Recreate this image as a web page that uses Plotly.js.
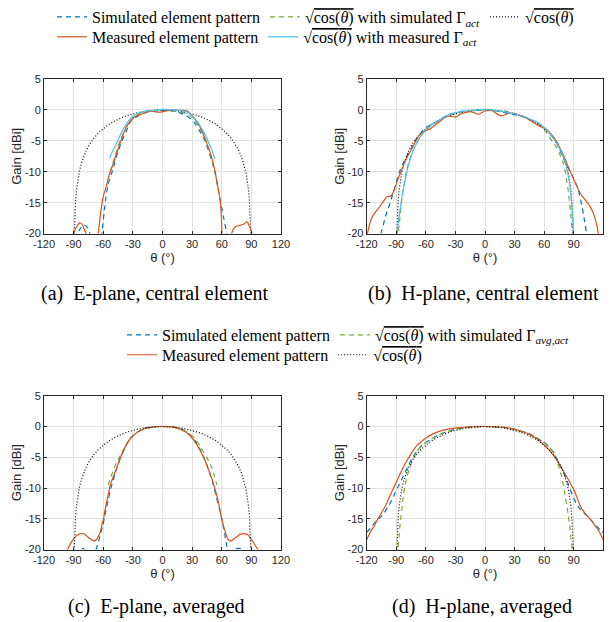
<!DOCTYPE html>
<html>
<head>
<meta charset="utf-8">
<script src="https://cdn.plot.ly/plotly-3.0.1.min.js"></script>
<style>
html,body{margin:0;padding:0;background:#fff;}
#chart{width:612px;height:622px;}
</style>
</head>
<body>
<div id="chart"></div>
<script>
// ---------- tick labels ----------
const thetaTicks = [-120,-90,-60,-30,0,30,60,90,120];
const thetaTickText = ['-120','-90','-60','-30','0','30','60','90','120'];
const gainTicks = [-20,-15,-10,-5,0,5];
const gainTickText = ['-20','-15','-10','-5','0','5'];

// ---------- sqrt(cos(theta)) reference (black dotted), shared by all panels ----------
const dotTheta = [-89.5,-89.2,-89,-88.5,-88,-87,-86,-85,-84,-82,-80,-77,-74,-70,-65,-60,-55,-50,-45,-40,-35,-30,-25,-20,-15,-10,-5,0,5,10,15,20,25,30,35,40,45,50,55,60,65,70,74,77,80,82,84,85,86,87,88,88.5,89,89.2,89.5];
const dotGain = [-20.6,-18.55,-17.58,-15.82,-14.57,-12.81,-11.56,-10.6,-9.81,-8.56,-7.6,-6.48,-5.6,-4.66,-3.74,-3.01,-2.41,-1.92,-1.51,-1.16,-0.87,-0.62,-0.43,-0.27,-0.15,-0.07,-0.02,0,-0.02,-0.07,-0.15,-0.27,-0.43,-0.62,-0.87,-1.16,-1.51,-1.92,-2.41,-3.01,-3.74,-4.66,-5.6,-6.48,-7.6,-8.56,-9.81,-10.6,-11.56,-12.81,-14.57,-15.82,-17.58,-18.55,-20.6];

// ---------- (a) E-plane, central element ----------
const aSimTheta = [-88,-84,-80,-76,-72,null,-64,-61.5,-58,-55,-51,-46,-41,-36,-33,-28,-25,-18,-12,-5,0,5,12,18,25,32,38,43,48,53,56,59,62,65,66];
const aSimGain  = [-21,-19.4,-18.6,-19.0,-21,null,-22,-20,-15,-12,-10,-7.2,-5,-3.2,-2,-1.3,-1,-0.5,-0.2,-0.2,-0.1,-0.1,-0.2,-0.5,-1.0,-2,-3.5,-5,-7.3,-10,-12.5,-15,-17.5,-20,-21.5];
const aSimActTheta = [-53,-50,-46,-42,-38,-33,-28,-22,-15,-8,0,8,15,22,28,33,38,42,46,50,54];
const aSimActGain  = [-10,-8.5,-6.4,-4.6,-3.2,-1.9,-1.1,-0.5,-0.2,-0.05,0,-0.05,-0.2,-0.5,-1.0,-1.8,-3.0,-4.3,-6.0,-8.1,-10.5];
const aMeasTheta = [-92,-90,-87,-84,-82,-80,-77.5,-76,null,-66,-65,-62.5,-60,-57,-54,-51,-47,-43,-40,-36,-33,-28,-23,-19,-15,-11,-7,-4,0,4,8,11,16,20,23,26,28,31,35,39,43,47,50,53,55,57,58.5,59.5,60.2,61,null,68,70,72,75,78,82,85.5,88,90.6,92];
const aMeasGain  = [-21.5,-20,-18.9,-18.3,-18.4,-19,-20,-21,null,-21.5,-20,-16.5,-14,-12.4,-10.5,-9.2,-7.3,-5.4,-4,-2.6,-1.9,-1.1,-0.8,-0.5,-0.3,-0.2,-0.3,-0.35,-0.3,-0.15,-0.05,0,-0.05,-0.05,-0.1,-0.3,-0.6,-1.1,-1.9,-3.1,-4.6,-6.3,-7.8,-9.8,-11.6,-13.3,-14.8,-17,-20,-22,null,-22,-20,-19.2,-18.8,-18.7,-18.5,-18.1,-18.8,-20,-21];
const aMeasActTheta = [-53.5,-50,-46,-42,-38,-33,-28,-23,-16,-9,-3,1,6,11,18,25,29,33,37,40,44,47,50,53];
const aMeasActGain  = [-7.8,-6.5,-5.2,-3.8,-2.6,-1.5,-0.8,-0.45,-0.2,-0.1,0,0.1,0.05,0,-0.1,-0.35,-0.8,-1.5,-2.3,-3.1,-4.3,-5.4,-6.5,-7.9];

// ---------- (b) H-plane, central element ----------
const bSimTheta = [-107,-105.5,-103,-100.5,-98,-95,-91.3,-88.5,-86.2,-83.5,-81,-78.5,-76,-73,-69.3,-65,-61,-55,-49,-42,-35.5,-28,-22,-15,-8.5,0,5,12,18.6,25,32,38.9,45,50,55.8,60,63,66,69.3,72.7,76,79.4,82.8,86.2,89.6,93,95.5,98,100.5,103,104];
const bSimGain  = [-21.5,-20,-18.5,-17,-15.9,-14.4,-12.4,-10.9,-9.8,-8.8,-8.0,-7.2,-6.6,-5.7,-4.6,-3.7,-3.0,-2.4,-1.9,-1.2,-0.7,-0.4,-0.2,-0.1,0,0,0,-0.15,-0.4,-0.6,-0.85,-1.1,-1.5,-1.9,-2.3,-2.8,-3.3,-3.8,-4.5,-5.4,-6.5,-7.8,-8.8,-9.9,-11.0,-12.2,-13.5,-15.3,-17.5,-20,-21.5];
const bSimActTheta = [-88.5,-88,-87,-86.2,-85,-83.8,-82.5,-80.8,-79.4,-77.5,-76,-73,-69.3,-65,-61,-55,-49,-42,-35.5,-28,-20,-10,0,10,20,28,35.5,42,49,55,61,65,69,72.7,76,79.4,81.5,83,84.5,86,87,88,88.7,89];
const bSimActGain  = [-21,-20,-18.5,-17.3,-15.5,-13.8,-12.4,-10.8,-9.7,-8.6,-7.8,-6.6,-5.4,-4.3,-3.4,-2.6,-1.9,-1.3,-0.8,-0.45,-0.2,-0.05,0,-0.05,-0.2,-0.45,-0.8,-1.3,-1.9,-2.6,-3.4,-4.3,-5.3,-6.1,-7.2,-8.6,-10,-11.5,-13.2,-15.3,-17,-18.7,-20,-21];
const bMeasTheta = [-121,-119.3,-117,-115,-111,-106.5,-103,-99.7,-97,-94.6,-92,-89.6,-87,-84.5,-82,-79.4,-76,-72.7,-69,-66,-62,-58,-55,-52,-48,-45,-41,-38,-34,-30,-26,-22,-18,-14,-10,-7,-4,-1,2,5,7,10,14,17,20,24,28,32,37,42,47,52,57,62.5,66,69.3,73,76,79.5,82.8,86,89.6,93,96.3,99,101.4,104,106.5,109,111.6,113.5,115,116];
const bMeasGain  = [-21,-20,-18.5,-17.5,-16.5,-15.6,-14.8,-14.1,-14.0,-13.8,-12.9,-11.8,-10.7,-9.7,-8.7,-7.8,-6.8,-5.8,-4.7,-4.0,-3.5,-3.2,-3.0,-2.6,-2.1,-1.8,-1.2,-1.0,-1.05,-1.15,-0.8,-0.5,-0.35,-0.3,-0.5,-0.7,-0.5,-0.2,-0.1,0,-0.1,-0.4,-0.8,-0.95,-0.8,-0.5,-0.55,-0.7,-0.95,-1.3,-1.8,-2.3,-2.7,-3.2,-3.7,-4.3,-5.2,-6.2,-7.3,-8.6,-9.8,-11.1,-12.3,-13.4,-14.0,-14.5,-15.0,-15.6,-16.4,-17.5,-18.7,-20,-21];
const bMeasActTheta = [-90,-89,-88,-86,-84,-81,-78.5,-76,-73,-69.3,-65.5,-62.5,-58,-52,-49,-42,-35.5,-28,-22,-12,-1.7,5,12,20,26,32,40,46,52.4,58,63,66,70,74.4,78,81,83.5,85.5,87,88,89,89.6,90];
const bMeasActGain  = [-21,-20,-18.3,-16.0,-13.8,-11.4,-9.5,-8.1,-6.6,-5.4,-4.3,-3.5,-2.8,-2.2,-1.9,-1.2,-0.7,-0.4,-0.2,-0.05,0.1,0.05,-0.1,-0.3,-0.5,-0.7,-1.1,-1.5,-1.9,-2.6,-3.3,-3.8,-4.7,-5.9,-7.0,-8.3,-9.9,-11.6,-13.6,-15.3,-17.6,-19.6,-21];

// ---------- (c) E-plane, averaged ----------
const cSimTheta = [-86,-84,-81.5,-79,-77,null,-69,-67.3,-65,-62.5,-60.5,-59,-57,-55,-52.4,-48,-43,-38,-33,-26,-19.3,-10,0,10,19.6,26,33,38,43,47.5,51.7,55,57.8,60,62,63.5,65,66,67,null,70,72,77,82,84];
const cSimGain  = [-21,-20,-19.8,-20,-21,null,-21.5,-20,-18.8,-17.3,-16.1,-15,-13.4,-12,-10.1,-7.7,-5.3,-3.5,-2.0,-1.0,-0.35,-0.05,0,-0.05,-0.4,-1.1,-2.3,-3.7,-5.4,-7.4,-9.6,-11.8,-13.4,-15,-16.6,-18,-19.3,-20.3,-21.5,null,-21,-20,-19.8,-20,-21];
const cSimActTheta = [-55,-52.5,-50,-46.5,-43,-38,-33,-26,-19,-10,0,10,19,26,33,38,42,45,47.5,50,52.5,55];
const cSimActGain  = [-9.5,-8.3,-7.2,-5.9,-4.8,-3.3,-2.0,-1.0,-0.45,-0.1,0,-0.1,-0.45,-1.0,-2.0,-3.2,-4.3,-5.1,-5.8,-6.8,-8.0,-9.5];
const cMeasTheta = [-98,-96,-93,-90.3,-86,-82.5,-79,-76.7,-73,-69.3,-67,-65,-63,-61.5,-59.5,-58,-55.5,-53,-49.5,-46,-43,-39.5,-36,-32,-27.7,-23,-19.3,-14,-9,-4,0,5,11,16,21,25,28,32,36.5,40,43,46.5,50,52.5,55,57,58.5,60.5,62.5,65,67,69.3,72,75.4,79,82,85,87,90,92,94.5,96.7,98];
const cMeasGain  = [-21,-20,-19,-18.3,-17.6,-17.4,-17.5,-17.8,-18.3,-18.6,-18.4,-17.9,-17.1,-16.1,-14.8,-13.4,-11.5,-9.6,-8.0,-6.6,-5.2,-3.9,-2.8,-1.9,-1.2,-0.7,-0.4,-0.2,-0.05,0,0,0,-0.1,-0.35,-0.7,-1.1,-1.5,-2.3,-3.4,-4.5,-5.5,-7.0,-8.5,-9.8,-11.2,-12.6,-13.9,-15.3,-16.6,-17.8,-18.5,-18.6,-18.3,-17.9,-17.5,-17.4,-17.5,-17.7,-18.4,-18.8,-19.5,-20,-21];

// ---------- (d) H-plane, averaged ----------
const dSimTheta = [-120,-116,-111.6,-107,-103,-99,-94.6,-91,-87.9,-84.5,-81,-77.5,-74.4,-70,-66,-60,-52,-45,-35,-25,-15,0,15,25,35,45,52,60,66,70,72.7,77,81,85,89.6,93,96.3,100,104.8,109,113,117,120];
const dSimGain  = [-17.2,-16.5,-15.6,-14.9,-14.2,-13.2,-12.0,-10.7,-9.7,-8.6,-7.4,-6.3,-5.3,-4.2,-3.4,-2.6,-1.8,-1.2,-0.65,-0.3,-0.1,0,-0.1,-0.3,-0.65,-1.2,-1.8,-2.6,-3.5,-4.3,-5.2,-6.6,-8,-9.6,-11.5,-12.6,-13.4,-14.0,-14.7,-15.5,-16.2,-16.8,-17.3];
const dSimActTheta = [-88.8,-88.3,-87.5,-86.5,-85.5,-84,-82.8,-81,-79.4,-77,-74.4,-72,-69.3,-65,-60,-52,-45,-35,-25,-15,0,15,25,35,45,52,60,65,69,72.7,75.5,77.8,79.5,81,82.8,84.5,86.2,87.3,88.3,88.8];
const dSimActGain  = [-21,-20,-18.5,-16.5,-15.0,-13.0,-11.2,-9.6,-8.3,-7.1,-5.9,-5.0,-4.1,-3.3,-2.6,-1.8,-1.25,-0.7,-0.3,-0.1,0,-0.1,-0.3,-0.7,-1.25,-1.8,-2.6,-3.3,-4.2,-5.5,-6.8,-8.2,-9.6,-11.0,-12.7,-14.4,-16.6,-18.3,-20,-21];
const dMeasTheta = [-120,-117,-115,-112,-110,-106,-103,-99.5,-96.3,-93,-89.6,-86,-82.8,-79.4,-76,-72.5,-69.3,-65,-60.9,-55,-49,-42,-35.5,-27,-18.6,-9,0,9,18.6,27,35.5,44,52.4,58,62.5,67,71,75,79.4,84,89.6,93,96.3,100,104.8,108,111.6,114,116.6,119,120];
const dMeasGain  = [-18.4,-17.4,-16.8,-16.1,-15.4,-14.3,-13.5,-12.4,-11.2,-10.1,-8.9,-7.7,-6.6,-5.6,-4.7,-3.8,-3.1,-2.5,-2.0,-1.4,-0.95,-0.6,-0.4,-0.2,-0.1,0,0,-0.03,-0.1,-0.35,-0.7,-1.2,-2.0,-2.7,-3.4,-4.2,-5.0,-6.0,-7.2,-8.5,-10.1,-11.4,-12.8,-13.8,-14.7,-15.3,-16.1,-16.6,-17.3,-18.1,-18.4];

// ---------- styles ----------
const C_SIM = '#0072BD', C_MEAS = '#D95319', C_SIMACT = '#77AC30', C_MEASACT = '#4DBEEE', C_DOT = '#000000';
const LW = 1.2;
const DASH = '5px,4px';
const DOTS = '1px,2px';
const SQ = '√<span style="text-decoration:overline">cos(<i>θ</i>)</span>';

function tr(x, y, xa, ya, color, dash, name, legend, show, shape) {
  return {
    type: 'scatter', mode: 'lines', x: x, y: y, xaxis: xa, yaxis: ya,
    name: name, legend: legend, showlegend: show, connectgaps: false,
    line: {color: color, width: LW, dash: dash, shape: shape || 'spline', smoothing: 0.8},
    hoverinfo: 'skip'
  };
}

const data = [
  // (a)
  tr(aSimTheta, aSimGain, 'x', 'y', C_SIM, DASH, 'Simulated element pattern', 'legend', true),
  tr(aSimActTheta, aSimActGain, 'x', 'y', C_SIMACT, DASH, SQ + ' with simulated Γ<sub><i>act</i></sub>', 'legend', true),
  tr(dotTheta, dotGain, 'x', 'y', C_DOT, DOTS, SQ, 'legend', true, 'linear'),
  tr(aMeasTheta, aMeasGain, 'x', 'y', C_MEAS, 'solid', 'Measured element pattern', 'legend2', true),
  tr(aMeasActTheta, aMeasActGain, 'x', 'y', C_MEASACT, 'solid', SQ + ' with measured Γ<sub><i>act</i></sub>', 'legend2', true),
  // (b)
  tr(bSimTheta, bSimGain, 'x2', 'y2', C_SIM, DASH, 'b1', 'legend', false),
  tr(bSimActTheta, bSimActGain, 'x2', 'y2', C_SIMACT, DASH, 'b2', 'legend', false),
  tr(dotTheta, dotGain, 'x2', 'y2', C_DOT, DOTS, 'b3', 'legend', false, 'linear'),
  tr(bMeasTheta, bMeasGain, 'x2', 'y2', C_MEAS, 'solid', 'b4', 'legend', false),
  tr(bMeasActTheta, bMeasActGain, 'x2', 'y2', C_MEASACT, 'solid', 'b5', 'legend', false),
  // (c)
  tr(cSimTheta, cSimGain, 'x3', 'y3', C_SIM, DASH, 'Simulated element pattern', 'legend3', true),
  tr(cSimActTheta, cSimActGain, 'x3', 'y3', C_SIMACT, DASH, SQ + ' with simulated Γ<sub><i>avg,act</i></sub>', 'legend3', true),
  tr(cMeasTheta, cMeasGain, 'x3', 'y3', C_MEAS, 'solid', 'Measured element pattern', 'legend4', true),
  tr(dotTheta, dotGain, 'x3', 'y3', C_DOT, DOTS, SQ, 'legend4', true, 'linear'),
  // (d)
  tr(dSimTheta, dSimGain, 'x4', 'y4', C_SIM, DASH, 'd1', 'legend', false),
  tr(dSimActTheta, dSimActGain, 'x4', 'y4', C_SIMACT, DASH, 'd2', 'legend', false),
  tr(dMeasTheta, dMeasGain, 'x4', 'y4', C_MEAS, 'solid', 'd3', 'legend', false),
  tr(dotTheta, dotGain, 'x4', 'y4', C_DOT, DOTS, 'd4', 'legend', false, 'linear')
];

const W = 612, H = 622;
const AX_COL = '#262626';
const TICKFONT = {family: 'Liberation Sans, Arial, sans-serif', size: 11, color: AX_COL};
const TITLEFONT = {family: 'Liberation Sans, Arial, sans-serif', size: 13, color: AX_COL};

function xax(d0, d1, anchor) {
  return {
    domain: [d0 / W, d1 / W], anchor: anchor, range: [-120, 120],
    tickmode: 'array', tickvals: thetaTicks, ticktext: thetaTickText,
    showgrid: true, gridcolor: '#e1e1e1', gridwidth: 1, zeroline: false,
    showline: true, linecolor: AX_COL, linewidth: 1, mirror: 'ticks',
    ticks: 'inside', ticklen: 3, tickcolor: AX_COL, tickwidth: 1,
    tickfont: TICKFONT, automargin: false, fixedrange: true,
    title: {text: 'θ (°)', font: TITLEFONT, standoff: 0}
  };
}
function yax(top, bottom, anchor) {
  return {
    domain: [1 - bottom / H, 1 - top / H], anchor: anchor, range: [-20, 5],
    tickmode: 'array', tickvals: gainTicks, ticktext: gainTickText,
    showgrid: true, gridcolor: '#e1e1e1', gridwidth: 1, zeroline: false,
    showline: true, linecolor: AX_COL, linewidth: 1, mirror: 'ticks',
    ticks: 'inside', ticklen: 3, tickcolor: AX_COL, tickwidth: 1,
    tickfont: TICKFONT, automargin: false, fixedrange: true,
    title: {text: 'Gain [dBi]', font: TITLEFONT, standoff: 0}
  };
}

const LEGFONT = {family: 'Liberation Serif, Times New Roman, serif', size: 16, color: '#000'};
function leg(xpx, ypx) {
  return {
    x: xpx / W, xanchor: 'left', y: 1 - ypx / H, yanchor: 'middle',
    orientation: 'h', font: LEGFONT, bgcolor: 'rgba(0,0,0,0)', borderwidth: 0,
    itemwidth: 30, traceorder: 'normal', itemclick: false, itemdoubleclick: false
  };
}

const CAPFONT = {family: 'Liberation Serif, Times New Roman, serif', size: 20, color: '#000'};
function cap(text, xpx, ypx) {
  return {text: text, xref: 'paper', yref: 'paper', x: xpx / W, y: 1 - ypx / H,
          xanchor: 'center', yanchor: 'middle', showarrow: false, font: CAPFONT};
}

const layout = {
  width: W, height: H,
  margin: {l: 0, r: 0, t: 0, b: 0},
  paper_bgcolor: '#fff', plot_bgcolor: '#fff',
  showlegend: true,
  xaxis: xax(44, 281, 'y'),
  yaxis: yax(77.3, 232.3, 'x'),
  xaxis2: xax(366.7, 603.3, 'y2'),
  yaxis2: yax(77.3, 232.3, 'x2'),
  xaxis3: xax(44, 281, 'y3'),
  yaxis3: yax(395, 549.3, 'x3'),
  xaxis4: xax(366.7, 603.3, 'y4'),
  yaxis4: yax(395, 549.3, 'x4'),
  legend: leg(52, 15),
  legend2: leg(52, 35),
  legend3: leg(122, 334),
  legend4: leg(122, 354),
  annotations: [
    cap('(a)\u00a0\u00a0E-plane, central element', 155, 292),
    cap('(b)\u00a0\u00a0H-plane, central element', 483, 292),
    cap('(c)\u00a0\u00a0E-plane, averaged', 156, 606),
    cap('(d)\u00a0\u00a0H-plane, averaged', 482, 606)
  ]
};

Plotly.newPlot('chart', data, layout, {displayModeBar: false, staticPlot: true});
</script>
</body>
</html>
